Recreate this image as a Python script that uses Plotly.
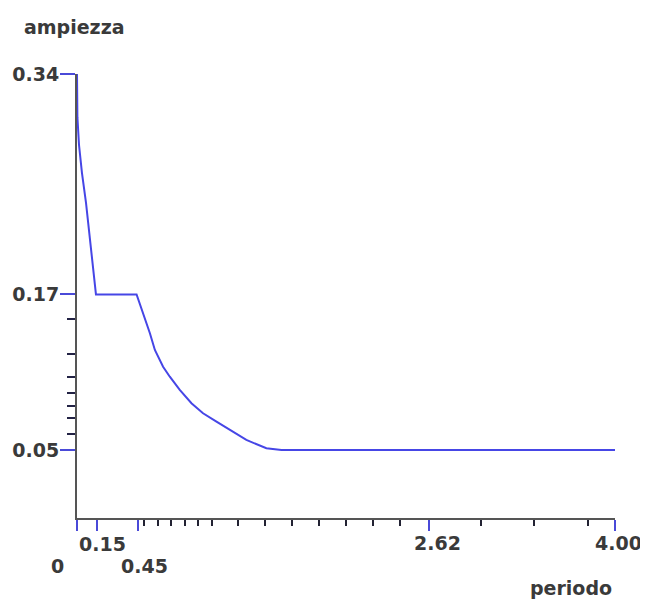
import plotly.graph_objects as go

# Data
periodo = [0.0, 0.0, 0.003, 0.015, 0.037, 0.067, 0.089, 0.111, 0.134, 0.141,
           0.443, 0.492, 0.542, 0.579, 0.640, 0.690, 0.764, 0.851, 0.937,
           1.037, 1.135, 1.259, 1.408, 1.52, 4.00]
ampiezza = [0.34, 0.34, 0.3067, 0.2852, 0.2636, 0.2405, 0.2196, 0.1981, 0.1788, 0.17,
            0.17, 0.1554, 0.140, 0.1271, 0.1142, 0.1065, 0.0963, 0.086, 0.0783,
            0.0718, 0.0654, 0.0577, 0.0513, 0.05, 0.05]

y_major = [0.05, 0.17, 0.34]
y_major_text = ["0.05", "0.17", "0.34"]
y_minor = [0.151, 0.124, 0.1066, 0.0939, 0.0839, 0.0746, 0.0623]

x_major = [0.0, 0.15, 0.45, 2.62, 4.00]
x_major_text = ["0", "0.15", "0.45", "2.62", "4.00"]
x_minor = [0.5, 0.6, 0.7, 0.8, 0.9, 1.0, 1.2, 1.4, 1.6, 1.8, 2.0, 2.2, 2.4, 3.0, 3.4, 3.8]

FONT = "DejaVu Sans"
TXT = "#3a3a3a"
BLUE_TICK = "#4a4ad8"
LINE = "#4646e6"
AXIS = "#555555"

fig = go.Figure()
fig.add_trace(go.Scatter(x=periodo, y=ampiezza, mode="lines",
                         line=dict(color=LINE, width=2), cliponaxis=False,
                         hoverinfo="skip", showlegend=False))

# page body has an 8px margin, so the figure is sized/offset to compensate
fig.update_layout(
    width=640, height=591,
    margin=dict(l=69, r=33, t=66, b=81, autoexpand=False),
    paper_bgcolor="white", plot_bgcolor="white",
    showlegend=False,
    xaxis=dict(range=[0, 4], showgrid=False, zeroline=False, automargin=False,
               showline=True, linecolor=AXIS, linewidth=2,
               tickmode="array", tickvals=x_major, ticktext=x_major_text,
               ticks="outside", ticklen=11, tickwidth=2, tickcolor=BLUE_TICK,
               showticklabels=False,
               minor=dict(tickmode="array", tickvals=x_minor, ticks="outside",
                          ticklen=6, tickwidth=2, tickcolor="#222233")),
    yaxis=dict(range=[-0.0025, 0.34], showgrid=False, zeroline=False, automargin=False,
               showline=True, linecolor=AXIS, linewidth=2,
               tickmode="array", tickvals=y_major, ticktext=y_major_text,
               ticks="outside", ticklen=15, tickwidth=2, tickcolor=BLUE_TICK,
               ticklabelstandoff=-3,
               tickfont=dict(family=FONT, size=19, color=TXT, weight="bold"),
               minor=dict(tickmode="array", tickvals=y_minor, ticks="outside",
                          ticklen=8, tickwidth=2, tickcolor="#222244")),
)

# x tick labels (staggered, as in the reference)
shifts = {"0": (-20, -48), "0.15": (5, -26), "0.45": (7, -48),
          "2.62": (8, -25), "4.00": (3, -25)}
for v, t in zip(x_major, x_major_text):
    dx, dy = shifts[t]
    fig.add_annotation(x=v, y=0, xref="x", yref="paper", text=t, showarrow=False,
                       xanchor="center", yanchor="middle", xshift=dx, yshift=dy,
                       font=dict(family=FONT, size=19, color=TXT, weight="bold"))

fig.add_annotation(x=0.918, y=0, xref="paper", yref="paper", text="periodo",
                   showarrow=False, xanchor="center", yanchor="middle", yshift=-70,
                   font=dict(family=FONT, size=19, color=TXT, weight="bold"))
fig.add_annotation(x=-0.004, y=1, xref="paper", yref="paper", text="ampiezza",
                   showarrow=False, xanchor="center", yanchor="middle", yshift=47,
                   font=dict(family=FONT, size=19, color=TXT, weight="bold"))

fig.write_html("out.html")
